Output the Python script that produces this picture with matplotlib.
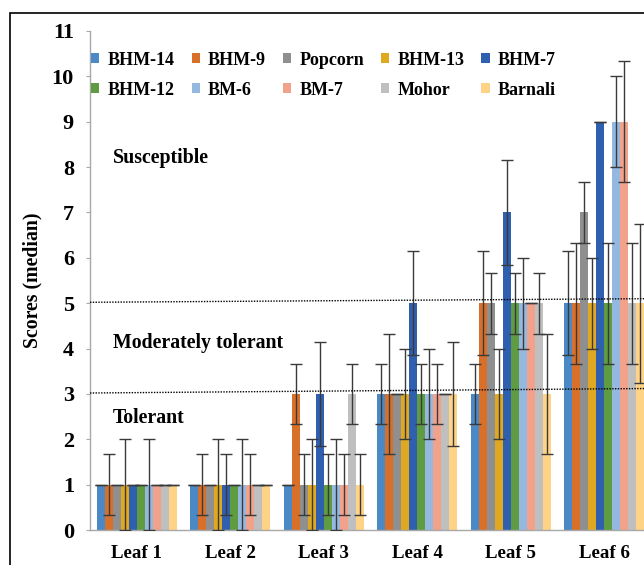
import matplotlib
matplotlib.use("Agg")
import matplotlib.pyplot as plt
from matplotlib.patches import Rectangle
import numpy as np

categories = ["Leaf 1", "Leaf 2", "Leaf 3", "Leaf 4", "Leaf 5", "Leaf 6"]
series_names = ["BHM-14", "BHM-9", "Popcorn", "BHM-13", "BHM-7",
                "BHM-12", "BM-6", "BM-7", "Mohor", "Barnali"]

bhm14 = [1, 1, 1, 3, 3, 5]
bhm9 = [1, 1, 3, 3, 5, 5]
popcorn = [1, 1, 1, 3, 5, 7]
bhm13 = [1, 1, 1, 3, 3, 5]
bhm7 = [1, 1, 3, 5, 7, 9]
bhm12 = [1, 1, 1, 3, 5, 5]
bm6 = [1, 1, 1, 3, 5, 9]
bm7 = [1, 1, 1, 3, 5, 9]
mohor = [1, 1, 3, 3, 5, 5]
barnali = [1, 1, 1, 3, 3, 5]

bhm14_err = [0, 0, 0, 0.67, 0.67, 1.15]
bhm9_err = [0.67, 0.67, 0.67, 1.33, 1.15, 1.33]
popcorn_err = [0, 0, 0.67, 0, 0.67, 0.67]
bhm13_err = [1, 1, 1, 1, 1, 1]
bhm7_err = [0, 0.67, 1.15, 1.15, 1.15, 0]
bhm12_err = [0, 0, 0.67, 0.67, 0.67, 1.33]
bm6_err = [1, 1, 1, 1, 1, 1]
bm7_err = [0, 0.67, 0.67, 0.67, 0, 1.33]
mohor_err = [0, 0, 0.67, 0, 0.67, 1.33]
barnali_err = [0, 0, 0.67, 1.15, 1.33, 1.75]

values = [bhm14, bhm9, popcorn, bhm13, bhm7, bhm12, bm6, bm7, mohor, barnali]
errors = [bhm14_err, bhm9_err, popcorn_err, bhm13_err, bhm7_err,
          bhm12_err, bm6_err, bm7_err, mohor_err, barnali_err]

colors = ["#4A89C5", "#D9702A", "#8F8F8F", "#E0A821", "#2F5FAF",
          "#5E9B41", "#95B8E0", "#F2A28A", "#BFBFBF", "#FFD385"]

serif = ["Liberation Serif", "DejaVu Serif"]
plt.rcParams["font.family"] = serif
plt.rcParams["font.weight"] = "bold"

fig = plt.figure(figsize=(6.44, 5.65), dpi=100)
ax = fig.add_axes([90 / 644, 35 / 565, 561 / 644, 499 / 565])

x = np.arange(len(categories))
n = len(series_names)
bw = 0.0856
handles = []
for i in range(n):
    pos = x + (i - (n - 1) / 2) * bw
    b = ax.bar(pos, values[i], width=bw, color=colors[i], label=series_names[i],
               zorder=2)
    ax.errorbar(pos, values[i], yerr=errors[i], fmt="none", ecolor="#3a3a3a",
                elinewidth=1.0, capsize=4.5, capthick=1.0, zorder=3)
    handles.append(b)

ax.set_xlim(-0.5, 5.5)
ax.set_ylim(0, 11)
ax.set_yticks(range(0, 12))
ax.set_xticks(x)
ax.set_xticklabels(categories, fontsize=13.6, fontweight="bold")
ax.tick_params(axis="x", length=0, pad=11)
ax.tick_params(axis="y", direction="out", length=3, color="#A8A8A8",
               labelsize=16, pad=8.6)
for lbl in ax.get_yticklabels():
    lbl.set_fontweight("bold")
for s in ["top", "right"]:
    ax.spines[s].set_visible(False)
for s in ["left", "bottom"]:
    ax.spines[s].set_color("#A8A8A8")
    ax.spines[s].set_linewidth(1.0)

ax.set_ylabel("Scores (median)", fontsize=14.2, fontweight="bold")
ax.yaxis.set_label_coords(-0.084, 0.5)

# threshold lines
ax.plot([-0.5, 5.5], [5.02, 5.1], linestyle=(0, (1, 1)), color="black",
        linewidth=1.0, zorder=4)
ax.plot([-0.5, 5.5], [3.02, 3.12], linestyle=(0, (1, 1)), color="black",
        linewidth=1.0, zorder=4)

ax.text(-0.254, 8.2, "Susceptible", fontsize=14.3, fontweight="bold", va="center")
ax.text(-0.254, 4.12, "Moderately tolerant", fontsize=14.3, fontweight="bold",
        va="center")
ax.text(-0.254, 2.47, "Tolerant", fontsize=14.3, fontweight="bold", va="center")

order = [0, 5, 1, 6, 2, 7, 3, 8, 4, 9]
leg = ax.legend([handles[k] for k in order], [series_names[k] for k in order],
                ncol=5, loc="upper left", bbox_to_anchor=(-0.027, 0.991),
                frameon=False, handlelength=0.45, handleheight=0.45,
                handletextpad=0.45, columnspacing=0.95, labelspacing=0.72,
                prop={"family": serif, "weight": "bold", "size": 13})

# figure border (cropped at right and bottom)
fig.add_artist(Rectangle((10 / 644, -0.2), 2.0, 1.2 - 13 / 565,
                         transform=fig.transFigure, fill=False,
                         edgecolor="black", linewidth=1.2))

fig.savefig("out.png", dpi=100)
